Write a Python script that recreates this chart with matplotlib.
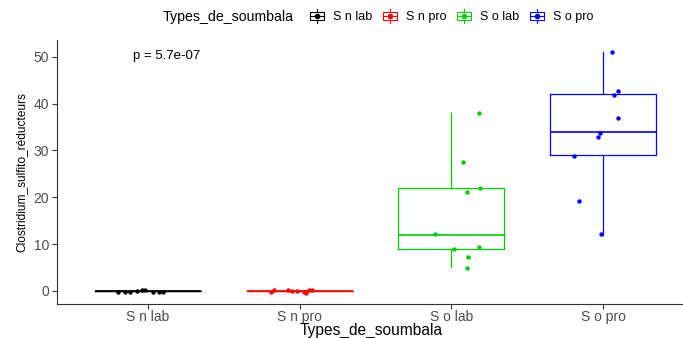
import matplotlib
matplotlib.use('Agg')
import matplotlib.pyplot as plt
from matplotlib.cbook import boxplot_stats
from matplotlib.legend_handler import HandlerBase
from matplotlib.lines import Line2D
from matplotlib.patches import Rectangle

plt.rcParams['font.family'] = ['Liberation Sans', 'DejaVu Sans']

groups = ['S n lab', 'S n pro', 'S o lab', 'S o pro']
colors = ['black', '#FF0000', '#00CD00', '#0000FF']

# counts per sample, one list per soumbala type
counts = {
    'S n lab': [0, 0, 0, 0, 0, 0, 0, 0, 0],
    'S n pro': [0, 0, 0, 0, 0, 0, 0, 0, 0],
    'S o lab': [38, 28, 22, 21, 12, 9, 9, 7, 5],
    'S o pro': [43, 42, 37, 34, 33, 29, 19, 12, 51],
}
# jitter applied to each point (x in category units, y in count units)
jitter_x = {
    'S n lab': [-0.20, -0.15, -0.12, -0.07, -0.04, -0.02, 0.03, 0.07, 0.10],
    'S n pro': [-0.19, -0.17, -0.08, -0.05, -0.02, 0.03, 0.04, 0.06, 0.08],
    'S o lab': [0.18, 0.08, 0.19, 0.10, -0.11, 0.02, 0.18, 0.11, 0.10],
    'S o pro': [0.10, 0.07, 0.10, -0.02, -0.03, -0.19, -0.16, -0.01, 0.06],
}
jitter_y = {
    'S n lab': [-0.3, -0.3, -0.25, -0.1, 0.25, 0.15, -0.25, -0.3, -0.3],
    'S n pro': [-0.3, 0.1, 0.2, 0.0, -0.1, -0.3, -0.4, 0.1, 0.1],
    'S o lab': [0.1, -0.4, 0.0, 0.2, 0.2, -0.1, 0.3, 0.3, -0.2],
    'S o pro': [-0.3, -0.1, 0.0, -0.2, -0.1, -0.2, 0.2, 0.2, 0.0],
}
p_label = 'p = 5.7e-07'


class BoxKey(HandlerBase):
    # little boxplot glyph with a dot, like the ggplot legend key
    def create_artists(self, legend, orig_handle, xdescent, ydescent,
                       width, height, fontsize, trans):
        c = orig_handle.get_color()
        x0, y0 = -xdescent, -ydescent
        cx = x0 + width / 2
        h = max(height, width) * 0.9
        yb = y0 + height / 2 - h / 2
        rect = Rectangle((x0 + width * 0.1, yb + h * 0.25), width * 0.8, h * 0.5,
                         fill=False, edgecolor=c, lw=0.8, transform=trans)
        med = Line2D([x0 + width * 0.1, x0 + width * 0.9], [yb + h / 2] * 2,
                     color=c, lw=0.8, transform=trans)
        w1 = Line2D([cx, cx], [yb + h * 0.05, yb + h * 0.25], color=c, lw=0.8, transform=trans)
        w2 = Line2D([cx, cx], [yb + h * 0.75, yb + h * 0.95], color=c, lw=0.8, transform=trans)
        dot = Line2D([cx], [yb + h / 2], marker='o', ms=3, color=c, lw=0, transform=trans)
        return [rect, med, w1, w2, dot]


fig = plt.figure(figsize=(6.83, 3.38), dpi=100)
ax = fig.add_axes([57 / 683, 34 / 338, 637 / 683, 264 / 338])

for i, (g, c) in enumerate(zip(groups, colors)):
    pos = i + 1
    stats = boxplot_stats(counts[g], whis=1.5)
    ax.bxp(stats, positions=[pos], widths=0.7, showcaps=False, showfliers=False,
           boxprops=dict(color=c, lw=0.9),
           medianprops=dict(color=c, lw=1.2),
           whiskerprops=dict(color=c, lw=0.9), manage_ticks=False)
    xs = [pos + dx for dx in jitter_x[g]]
    ys = [v + dy for v, dy in zip(counts[g], jitter_y[g])]
    ax.scatter(xs, ys, s=10, color=c, zorder=3, linewidths=0)

ax.text(0.9, 50.2, p_label, fontsize=9.5, ha='left', va='center')

ax.set_xlim(0.4, 4.6)
ax.set_ylim(-2.8, 53.6)
ax.set_xticks(range(1, 5))
ax.set_xticklabels(groups)
ax.set_yticks([0, 10, 20, 30, 40, 50])
ax.tick_params(labelsize=10, labelcolor='#4D4D4D', length=3.5, width=0.8,
               color='#333333', pad=2)
ax.tick_params(axis='x', pad=1)
for s in ['top', 'right']:
    ax.spines[s].set_visible(False)
for s in ['left', 'bottom']:
    ax.spines[s].set_color('#333333')
    ax.spines[s].set_linewidth(0.8)

ax.set_xlabel('Types_de_soumbala', fontsize=11.2, va='center')
ax.xaxis.set_label_coords((371 - 57) / 637, -(330 - 304) / 264)
ax.set_ylabel('Clostridium_sulfito_réducteurs', fontsize=8.6, va='center')
ax.yaxis.set_label_coords(-(57 - 21) / 637, 0.5)

fig.text(163 / 683, 1 - 17 / 338, 'Types_de_soumbala', fontsize=10.2,
         ha='left', va='center')
handles = [Line2D([], [], color=c) for c in colors]
fig.legend(handles, groups, handler_map={Line2D: BoxKey()}, ncol=4,
           loc='center left', bbox_to_anchor=(308 / 683, 1 - 17 / 338),
           frameon=False, fontsize=9, handlelength=1.4, handleheight=1.0,
           handletextpad=0.6, columnspacing=0.7, borderpad=0, borderaxespad=0)

fig.savefig('out.png', dpi=100)
